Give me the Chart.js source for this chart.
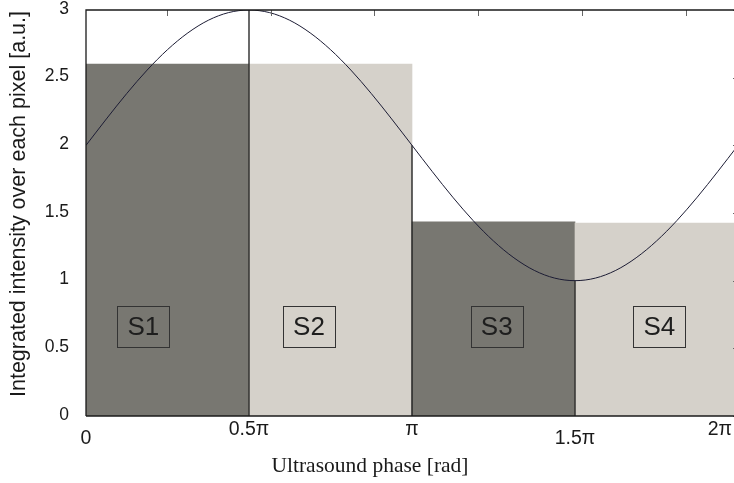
<!DOCTYPE html>
<html>
<head>
<meta charset="utf-8">
<script src="https://cdn.jsdelivr.net/npm/chart.js@4/dist/chart.umd.min.js"></script>
<style>
  html, body { margin: 0; padding: 0; background: #ffffff; overflow: hidden; width: 734px; height: 483px; }
  canvas { display: block; }
</style>
</head>
<body>
<canvas id="c" width="740" height="483"></canvas>
<script>
// ---- data (x in units of pi) ----
const phaseTicks = [0, 0.5, 1, 1.5, 2];
const phaseLabels = ['0', '0.5π', 'π', '1.5π', '2π'];
const yTicks = [0, 0.5, 1, 1.5, 2, 2.5, 3];
const yLabels = ['0', '0.5', '1', '1.5', '2', '2.5', '3'];

const segmentNames = ['S1', 'S2', 'S3', 'S4'];
const segmentCenters = [0.25, 0.75, 1.25, 1.75];
const segmentValues = [2.6, 2.6, 1.435, 1.425];
const segmentLabelX = [0.176, 0.684, 1.26, 1.759];
const segmentLabelY = [0.665, 0.665, 0.665, 0.665];

const curveX = [0, 0.0625, 0.125, 0.1875, 0.25, 0.3125, 0.375, 0.4375, 0.5,
  0.5625, 0.625, 0.6875, 0.75, 0.8125, 0.875, 0.9375, 1,
  1.0625, 1.125, 1.1875, 1.25, 1.3125, 1.375, 1.4375, 1.5,
  1.5625, 1.625, 1.6875, 1.75, 1.8125, 1.875, 1.9375, 2];
const curveY = [2.000, 2.195, 2.383, 2.556, 2.707, 2.831, 2.924, 2.981, 3.000,
  2.981, 2.924, 2.831, 2.707, 2.556, 2.383, 2.195, 2.000,
  1.805, 1.617, 1.444, 1.293, 1.169, 1.076, 1.019, 1.000,
  1.019, 1.076, 1.169, 1.293, 1.444, 1.617, 1.805, 2.000];

const markerX = [0.5, 1, 1.5];
const markerTop = [3, 2, 1];

const minorTickX = [0.248, 0.566, 0.884, 1.203, 1.521, 1.839];

const xTitle = 'Ultrasound phase [rad]';
const yTitle = 'Integrated intensity over each pixel [a.u.]';

// ---- styles ----
const DARK = '#787771';
const LIGHT = '#d5d1ca';
const segColors = [DARK, LIGHT, DARK, LIGHT];
const SANS = '"Liberation Sans", Arial, Helvetica, sans-serif';
const SERIF = '"Liberation Serif", "Times New Roman", serif';

const datasets = [];
datasets.push({
  type: 'bar',
  data: segmentCenters.map((x, i) => ({ x: x, y: segmentValues[i] })),
  backgroundColor: segColors,
  borderWidth: 0,
  barPercentage: 1,
  categoryPercentage: 1,
  order: 3
});
markerX.forEach((x, i) => {
  datasets.push({
    type: 'line',
    data: [{ x: x, y: 0 }, { x: x, y: markerTop[i] }],
    borderColor: '#1a1a1a',
    borderWidth: 1.3,
    pointRadius: 0,
    fill: false,
    order: 2
  });
});
datasets.push({
  type: 'line',
  data: curveX.map((x, i) => ({ x: x, y: curveY[i] })),
  borderColor: '#1c1c34',
  borderWidth: 1,
  pointRadius: 0,
  cubicInterpolationMode: 'monotone',
  fill: false,
  order: 1
});

const axesPlugin = {
  id: 'axesPlugin',
  afterDatasetsDraw(chart) {
    const ctx = chart.ctx;
    const xs = chart.scales.x, ys = chart.scales.y;
    const a = chart.chartArea;
    ctx.save();
    // ticks (inward)
    ctx.strokeStyle = '#666';
    ctx.lineWidth = 1;
    minorTickX.forEach(v => {
      const px = Math.round(xs.getPixelForValue(v)) + 0.5;
      ctx.beginPath(); ctx.moveTo(px, a.top); ctx.lineTo(px, a.top + 6); ctx.stroke();
    });
    yTicks.forEach(v => {
      const py = Math.round(ys.getPixelForValue(v)) + 0.5;
      ctx.beginPath(); ctx.moveTo(a.right, py); ctx.lineTo(a.right - 5, py); ctx.stroke();
    });
    // axis box
    ctx.strokeStyle = '#1a1a1a';
    ctx.lineWidth = 1.3;
    ctx.beginPath();
    ctx.moveTo(a.left, a.bottom);
    ctx.lineTo(a.left, a.top);
    ctx.lineTo(a.right, a.top);
    ctx.stroke();
    ctx.beginPath();
    ctx.moveTo(a.left, a.bottom);
    ctx.lineTo(a.right, a.bottom);
    ctx.stroke();

    // segment label boxes
    ctx.font = '26px ' + SANS;
    ctx.textAlign = 'center';
    ctx.textBaseline = 'middle';
    segmentNames.forEach((n, i) => {
      const cx = xs.getPixelForValue(segmentLabelX[i]);
      const cy = ys.getPixelForValue(segmentLabelY[i]);
      ctx.strokeStyle = '#333';
      ctx.lineWidth = 1;
      ctx.strokeRect(Math.round(cx - 26) + 0.5, Math.round(cy - 20) + 0.5, 52, 41);
      ctx.fillStyle = '#1e1e1e';
      ctx.fillText(n, cx, cy + 2);
    });

    // y tick labels
    ctx.font = '17.5px ' + SANS;
    ctx.fillStyle = '#1a1a1a';
    ctx.textAlign = 'right';
    ctx.textBaseline = 'middle';
    yTicks.forEach((v, i) => {
      ctx.fillText(yLabels[i], 69, ys.getPixelForValue(v) - 1);
    });

    // x tick labels
    ctx.font = '19.5px ' + SANS;
    const dy = [9, 0, 0, 9, 0];
    ctx.textBaseline = 'top';
    phaseTicks.forEach((v, i) => {
      let px = xs.getPixelForValue(v);
      if (i === phaseTicks.length - 1) {
        ctx.textAlign = 'right';
        px = 732;
      } else {
        ctx.textAlign = 'center';
      }
      ctx.fillText(phaseLabels[i], px, a.bottom + 4 + dy[i]);
    });

    // titles
    ctx.font = '21.5px ' + SERIF;
    ctx.textAlign = 'center';
    ctx.textBaseline = 'middle';
    ctx.fillText(xTitle, 370, 466);

    ctx.save();
    ctx.translate(19, 204);
    ctx.rotate(-Math.PI / 2);
    ctx.font = '21.5px ' + SANS;
    ctx.fillText(yTitle, 0, 0);
    ctx.restore();

    ctx.restore();
  }
};

new Chart(document.getElementById('c'), {
  type: 'bar',
  data: { datasets: datasets },
  options: {
    responsive: false,
    animation: false,
    layout: { padding: { left: 86, top: 10, right: 2, bottom: 67 } },
    plugins: { legend: { display: false }, tooltip: { enabled: false } },
    scales: {
      x: { type: 'linear', min: 0, max: 2, display: false, ticks: { stepSize: 0.5 }, offset: false },
      y: { type: 'linear', min: 0, max: 3, display: false, ticks: { stepSize: 0.5 } }
    }
  },
  plugins: [axesPlugin]
});
</script>
</body>
</html>
